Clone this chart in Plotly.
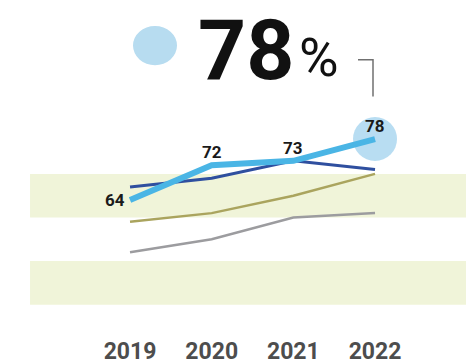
import plotly.graph_objects as go

years = [2019, 2020, 2021, 2022]
main_vals = [64, 72, 73, 78]
navy_vals = [67, 69, 73, 71]
olive_vals = [59, 61, 65, 70]
gray_vals = [52, 55, 60, 61]
tick_labels = ["2019", "2020", "2021", "2022"]
headline_value = 78
bands = [(40, 50), (60, 70)]

W, H = 466, 364
FONT = "Roboto, sans-serif"

fig = go.Figure()

# secondary series
for vals, color, width in [
    (gray_vals, "#9c9c9f", 2.5),
    (olive_vals, "#aaa45e", 2.5),
    (navy_vals, "#2f4f9f", 3),
]:
    fig.add_trace(go.Scatter(x=years, y=vals, mode="lines",
                             line=dict(color=color, width=width),
                             hoverinfo="skip", showlegend=False))

# highlight halo on the latest value
fig.add_trace(go.Scatter(x=years[-1:], y=main_vals[-1:], mode="markers",
                         marker=dict(size=44, color="rgba(160,210,238,0.75)", line=dict(width=0)),
                         hoverinfo="skip", showlegend=False))

# main series
fig.add_trace(go.Scatter(x=years, y=main_vals, mode="lines",
                         line=dict(color="#4ab5e5", width=6),
                         hoverinfo="skip", showlegend=False))

# value labels: first one to the left of the point, the rest above
for i, (x, v) in enumerate(zip(years, main_vals)):
    if i == 0:
        fig.add_annotation(x=x, y=v, text=str(v), showarrow=False,
                           xanchor="right", yanchor="middle", xshift=-3,
                           font=dict(family=FONT, size=17, color="#1a1a1a", weight="bold"))
    else:
        fig.add_annotation(x=x, y=v, text=str(v), showarrow=False,
                           xanchor="center", yanchor="bottom", yshift=1,
                           font=dict(family=FONT, size=17, color="#1a1a1a", weight="bold"))

# alternating background bands
for lo, hi in bands:
    fig.add_shape(type="rect", xref="x", yref="y", x0=2017.776, x1=2023.2, y0=lo, y1=hi,
                  fillcolor="#f0f4d9", line=dict(width=0), layer="below")

# headline: dot + big number + percent sign
def px_x(p):
    return p / W

def px_y(p):
    return 1 - p / H

fig.add_shape(type="circle", xref="paper", yref="paper",
              x0=px_x(133), x1=px_x(177), y0=px_y(73), y1=px_y(29),
              fillcolor="#b7dcf0", line=dict(width=0))
fig.add_annotation(xref="paper", yref="paper", x=px_x(196), y=px_y(56), text=str(headline_value),
                   showarrow=False, xanchor="left", yanchor="middle",
                   font=dict(family=FONT, size=84, color="#111111", weight="bold"))
fig.add_annotation(xref="paper", yref="paper", x=px_x(297), y=px_y(64), text="%",
                   showarrow=False, xanchor="left", yanchor="middle",
                   font=dict(family=FONT, size=54, color="#111111"))

# connector bracket from headline down to the halo
fig.add_shape(type="path", xref="paper", yref="paper",
              path=f"M {px_x(358)},{px_y(67)} L {px_x(373)},{px_y(67)} L {px_x(373)},{px_y(108)}",
              line=dict(color="#707070", width=1.5))

fig.update_layout(
    width=W, height=H,
    margin=dict(l=0, r=0, t=0, b=39),
    paper_bgcolor="white", plot_bgcolor="white",
    xaxis=dict(range=[2017.408, 2023.114], tickmode="array", tickvals=years, ticktext=tick_labels,
               showgrid=False, zeroline=False, showline=False, ticks="", ticklabelstandoff=10,
               tickfont=dict(family=FONT, size=23, color="#4d4d4d", weight="bold")),
    yaxis=dict(range=[35.33, 109.9], showgrid=False, zeroline=False, showline=False,
               showticklabels=False),
)

fig.write_html("out.html")
